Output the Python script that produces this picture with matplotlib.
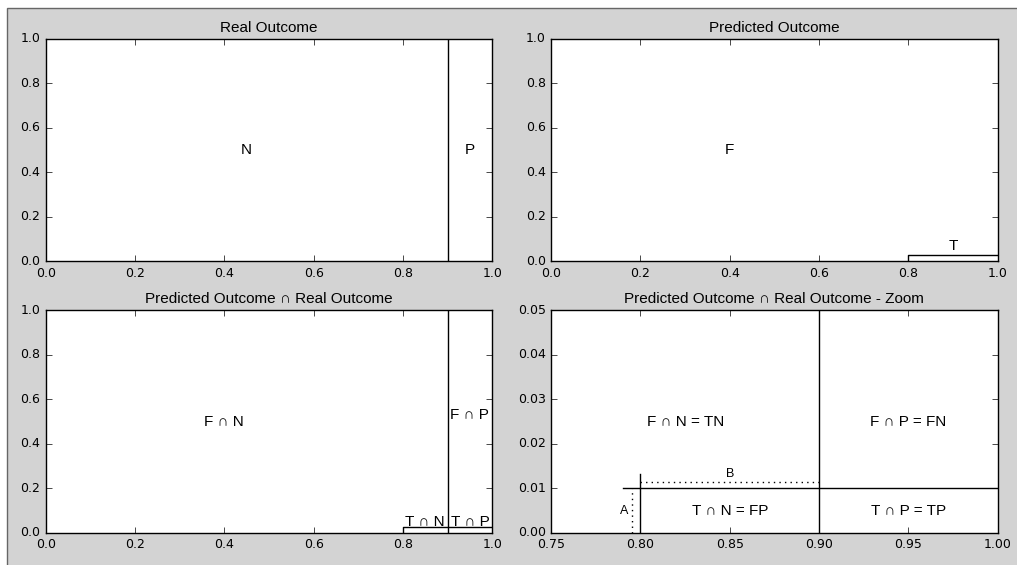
import matplotlib
matplotlib.use("Agg")
import matplotlib.pyplot as plt
from matplotlib.patches import Rectangle

# values
real_split = 0.9          # N | P boundary
pred_split = 0.8          # F | T boundary
t_height_pred = 0.03      # height of T strip, "Predicted Outcome"
t_height_both = 0.025     # height of T strip, intersection panel
t_height_zoom = 0.01      # height of T strip, zoom panel
zoom_xlim = [0.75, 1.0]
zoom_ylim = [0.0, 0.05]
zoom_xticks = [0.75, 0.80, 0.85, 0.90, 0.95, 1.00]
zoom_yticks = [0.00, 0.01, 0.02, 0.03, 0.04, 0.05]
full_ticks = [0.0, 0.2, 0.4, 0.6, 0.8, 1.0]
line_a = [0.795, 0.0, 0.01]       # x, y0, y1 (dotted)
line_b = [0.0115, 0.80, 0.90]     # y, x0, x1 (dotted)
h_line_start = 0.79
v_line_top = 0.0133

titles = ["Real Outcome", "Predicted Outcome",
          "Predicted Outcome \u2229 Real Outcome",
          "Predicted Outcome \u2229 Real Outcome - Zoom"]

labels_real = [("N", 0.45, 0.5), ("P", 0.95, 0.5)]
labels_pred = [("F", 0.40, 0.5), ("T", 0.90, 0.07)]
labels_both = [("F \u2229 N", 0.40, 0.5), ("F \u2229 P", 0.95, 0.53),
               ("T \u2229 N", 0.85, 0.05), ("T \u2229 P", 0.95, 0.05)]
labels_zoom = [("F \u2229 N = TN", 0.825, 0.025), ("F \u2229 P = FN", 0.95, 0.025),
               ("T \u2229 N = FP", 0.85, 0.005), ("T \u2229 P = TP", 0.95, 0.005)]

plt.style.use("classic")
FONT = ["Liberation Sans", "DejaVu Sans"]
FS = 11

fig, axes = plt.subplots(2, 2, figsize=(10.17, 5.65), dpi=100)
fig.set_facecolor("white")
fig.subplots_adjust(left=0.045, right=0.981, top=0.931, bottom=0.057,
                    wspace=0.132, hspace=0.22)

# gray panel with a border on top/left (picture is cropped on the other sides)
bg = Rectangle((7 / 1017, -0.1), 1.2, 1.1 - 8 / 565, transform=fig.transFigure,
               facecolor="#d3d3d3", edgecolor="#666666", linewidth=1.0, zorder=-10)
fig.patches.append(bg)

for ax, title in zip(axes.flat, titles):
    ax.set_title(title, fontsize=FS, family=FONT)
    ax.tick_params(labelsize=9, direction="in", length=4, top=True, right=True)

for ax in axes.flat[:3]:
    ax.set_xlim(0, 1)
    ax.set_ylim(0, 1)
    ax.set_xticks(full_ticks)
    ax.set_yticks(full_ticks)

k = dict(color="black", linewidth=1)

ax = axes[0, 0]
ax.plot([real_split, real_split], [0, 1], **k)
for s, x, y in labels_real:
    ax.text(x, y, s, ha="center", va="center", fontsize=FS, family=FONT)

ax = axes[0, 1]
ax.plot([pred_split, pred_split, 1], [0, t_height_pred, t_height_pred], **k)
for s, x, y in labels_pred:
    ax.text(x, y, s, ha="center", va="center", fontsize=FS, family=FONT)

ax = axes[1, 0]
ax.plot([real_split, real_split], [0, 1], **k)
ax.plot([pred_split, pred_split, 1], [0, t_height_both, t_height_both], **k)
for s, x, y in labels_both:
    ax.text(x, y, s, ha="center", va="center", fontsize=FS, family=FONT)

ax = axes[1, 1]
ax.set_xlim(zoom_xlim)
ax.set_ylim(zoom_ylim)
ax.set_xticks(zoom_xticks)
ax.set_yticks(zoom_yticks)
ax.xaxis.set_major_formatter(plt.FormatStrFormatter("%.2f"))
ax.yaxis.set_major_formatter(plt.FormatStrFormatter("%.2f"))
ax.plot([real_split, real_split], zoom_ylim, **k)
ax.plot([h_line_start, 1.0], [t_height_zoom, t_height_zoom], **k)
ax.plot([pred_split, pred_split], [0, v_line_top], **k)
ax.plot([line_a[0], line_a[0]], [line_a[1], line_a[2]], color="black",
        linestyle=":", linewidth=1)
ax.plot([line_b[1], line_b[2]], [line_b[0], line_b[0]], color="black",
        linestyle=":", linewidth=1)
ax.text(line_a[0] - 0.002, 0.005, "A", ha="right", va="center", fontsize=9,
        family=FONT)
ax.text((line_b[1] + line_b[2]) / 2, line_b[0] + 0.0003, "B", ha="center",
        va="bottom", fontsize=9, family=FONT)
for s, x, y in labels_zoom:
    ax.text(x, y, s, ha="center", va="center", fontsize=FS, family=FONT)

fig.savefig("out.png", dpi=100, facecolor=fig.get_facecolor())
